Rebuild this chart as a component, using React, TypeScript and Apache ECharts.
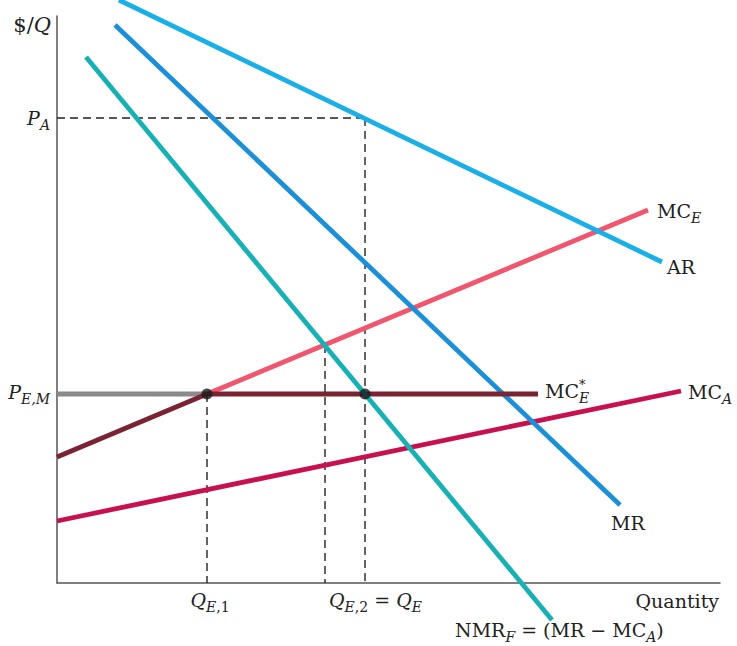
import React, { useEffect, useRef } from "react";
import * as echarts from "echarts";

// Data in chart units (quantity on x, $/Q on y)
const X_MAX = 663;
const Y_MAX = 567;
const arLine = [[62, 583], [605, 321]];
const mrLine = [[58, 558], [563, 78]];
const nmrLine = [[29, 526], [495, -37]];
const mcEUpper = [[150, 189], [591, 373]];
const mcELower = [[0, 126], [150, 189]];
const mcEStar = [[150, 189], [481, 189]];
const pemLine = [[0, 189], [150, 189]];
const mcALine = [[0, 62], [624, 192]];
const paDashH = [[0, 465], [308, 465]];
const paDashV = [[308, 465], [308, 0]];
const qe1Dash = [[150, 189], [150, 0]];
const midDash = [[268, 238], [268, 0]];
const eqPoints = [[150, 189], [308, 189]];

const FAMILY = '"DejaVu Serif", serif';
const MAIN = 19;
const SUB = 14;
const INK = "#222";

type Part = { t: string; i?: boolean; sub?: boolean; sup?: boolean; stack?: boolean; size?: number };

let ctx: CanvasRenderingContext2D | null = null;
function measure(t: string, size: number, italic: boolean) {
  if (!ctx) ctx = document.createElement("canvas").getContext("2d");
  if (!ctx) return t.length * size * 0.55;
  ctx.font = `${italic ? "italic " : ""}${size}px ${FAMILY}`;
  return ctx.measureText(t).width;
}

function sizeOf(p: Part) {
  return p.size ?? (p.sup ? 13 : p.sub ? SUB : MAIN);
}

function label(x: number, y: number, parts: Part[], anchor: "left" | "right" | "center" = "left") {
  let total = 0;
  parts.forEach((p) => {
    if (!p.stack) total += measure(p.t, sizeOf(p), !!p.i);
  });
  let cx = anchor === "left" ? x : anchor === "right" ? x - total : x - total / 2;
  const children: any[] = [];
  parts.forEach((p) => {
    const size = sizeOf(p);
    const dy = p.sub ? 7 : p.sup ? -7 : 0;
    children.push({
      type: "text",
      x: cx,
      y: y + dy,
      silent: true,
      style: {
        text: p.t,
        fontSize: size,
        fontFamily: FAMILY,
        fontStyle: p.i ? "italic" : "normal",
        fill: INK,
        align: "left",
        textAlign: "left",
        verticalAlign: "middle",
        textVerticalAlign: "middle",
      },
    });
    if (!p.stack) cx += measure(p.t, size, !!p.i);
  });
  return { type: "group", children };
}

function lineSeries(data: number[][], color: string, width: number, dashed = false, z = 2) {
  return {
    type: "line",
    data,
    symbol: "none",
    clip: false,
    z,
    lineStyle: { color, width, type: dashed ? [8, 5] : "solid", cap: "butt" },
  };
}

export default function App() {
  const ref = useRef<HTMLDivElement>(null);
  useEffect(() => {
    if (!ref.current) return;
    const chart = echarts.init(ref.current, undefined, { renderer: "svg" });
    chart.setOption({
      animation: false,
      backgroundColor: "#fff",
      grid: { left: 57, top: 16, width: 663, height: 567 },
      xAxis: {
        type: "value",
        min: 0,
        max: X_MAX,
        axisLine: { show: true, onZero: false, lineStyle: { color: "#555", width: 1.5 } },
        axisTick: { show: false },
        axisLabel: { show: false },
        splitLine: { show: false },
      },
      yAxis: {
        type: "value",
        min: 0,
        max: Y_MAX,
        axisLine: { show: true, onZero: false, lineStyle: { color: "#555", width: 1.5 } },
        axisTick: { show: false },
        axisLabel: { show: false },
        splitLine: { show: false },
      },
      series: [
        lineSeries(paDashH, "#222", 1.4, true, 1),
        lineSeries(paDashV, "#222", 1.4, true, 1),
        lineSeries(qe1Dash, "#222", 1.4, true, 1),
        lineSeries(midDash, "#222", 1.4, true, 1),
        lineSeries(mcALine, "#c8104f", 4.8),
        lineSeries(pemLine, "#8a8a8a", 4.8),
        lineSeries(mcELower, "#7a2333", 4.8),
        lineSeries(mcEUpper, "#f0566e", 4.8),
        lineSeries(mcEStar, "#7a2333", 4.8, false, 3),
        lineSeries(arLine, "#1aafe6", 4.8),
        lineSeries(mrLine, "#1b8fd8", 4.8),
        lineSeries(nmrLine, "#17b0b5", 4.8, false, 4),
        {
          type: "scatter",
          data: eqPoints,
          symbolSize: 11,
          itemStyle: { color: "#1a1a1a" },
          z: 6,
        },
      ],
      graphic: [
        label(51, 25, [{ t: "$/", size: 21 }, { t: "Q", i: true, size: 21 }], "right"),
        label(50, 118, [{ t: "P", i: true }, { t: "A", i: true, sub: true }], "right"),
        label(50, 392, [{ t: "P", i: true }, { t: "E,M", i: true, sub: true }], "right"),
        label(210, 600, [{ t: "Q", i: true }, { t: "E", i: true, sub: true }, { t: ",1", sub: true }], "center"),
        label(329, 600, [
          { t: "Q", i: true },
          { t: "E", i: true, sub: true },
          { t: ",2", sub: true },
          { t: " = " },
          { t: "Q", i: true },
          { t: "E", i: true, sub: true },
        ]),
        label(719, 601, [{ t: "Quantity" }], "right"),
        label(455, 630, [
          { t: "NMR" },
          { t: "F", i: true, sub: true },
          { t: " = (MR − MC" },
          { t: "A", i: true, sub: true },
          { t: ")" },
        ]),
        label(611, 523, [{ t: "MR" }]),
        label(545, 391, [{ t: "MC" }, { t: "*", sup: true, stack: true }, { t: "E", i: true, sub: true }]),
        label(688, 392, [{ t: "MC" }, { t: "A", i: true, sub: true }]),
        label(657, 211, [{ t: "MC" }, { t: "E", i: true, sub: true }]),
        label(667, 267, [{ t: "AR" }]),
      ],
    });
    return () => chart.dispose();
  }, []);
  return <div ref={ref} style={{ width: 737, height: 646, position: "absolute", left: 0, top: 0 }} />;
}
